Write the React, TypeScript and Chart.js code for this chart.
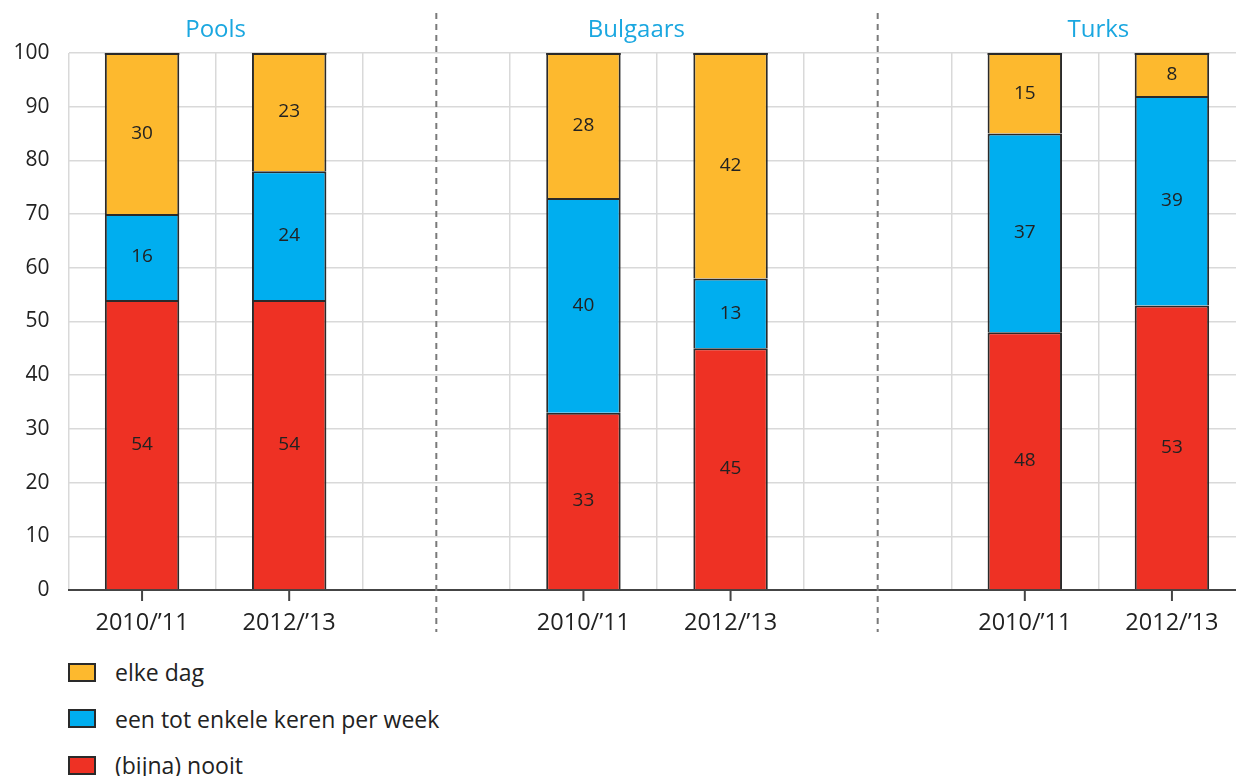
import React, { useEffect, useRef } from "react";
import { Chart, registerables } from "chart.js";

Chart.register(...registerables);

const categories = ["2010/\u201911", "2012/\u201913", "", "2010/\u201911", "2012/\u201913", "", "2010/\u201911", "2012/\u201913"];
const groupTitles = ["Pools", "Bulgaars", "Turks"];
const seriesNames = ["(bijna) nooit", "een tot enkele keren per week", "elke dag"];
const nooit = [54, 54, null, 33, 45, null, 48, 53];
const week = [16, 24, null, 40, 13, null, 37, 39];
const dag = [30, 23, null, 28, 42, null, 15, 8];
const yMin = 0;
const yMax = 100;
const yStep = 10;

const COLORS = ["#EE3124", "#00AEEF", "#FDB92E"];
const BORDER = "#2a2a2a";
const FONT = "'Open Sans', Lato, sans-serif";
const TEXT = "#222222";

const overlayPlugin = {
  id: "overlay",
  afterDatasetsDraw(chart: any) {
    const { ctx, chartArea, scales } = chart;
    const xs = scales.x;
    ctx.save();
    chart.data.datasets.forEach((ds: any, di: number) => {
      const meta = chart.getDatasetMeta(di);
      meta.data.forEach((el: any, i: number) => {
        const v = ds.data[i];
        if (v == null) return;
        const p = el.getProps(["x", "y", "base", "width"], true);
        const top = Math.max(Math.min(p.y, p.base), chartArea.top);
        const bottom = Math.max(p.y, p.base);
        if (p.y < chartArea.top + 0.5) {
          ctx.strokeStyle = BORDER;
          ctx.lineWidth = 2;
          ctx.setLineDash([]);
          ctx.beginPath();
          ctx.moveTo(p.x - p.width / 2, chartArea.top + 1);
          ctx.lineTo(p.x + p.width / 2, chartArea.top + 1);
          ctx.stroke();
        }
        ctx.fillStyle = TEXT;
        ctx.font = `19px ${FONT}`;
        ctx.textAlign = "center";
        ctx.textBaseline = "middle";
        ctx.fillText(String(v), p.x, (top + bottom) / 2);
      });
    });
    ctx.strokeStyle = "#444444";
    ctx.lineWidth = 2;
    categories.forEach((c, i) => {
      if (!c) return;
      const px = xs.getPixelForValue(i);
      ctx.beginPath();
      ctx.moveTo(px, chartArea.bottom);
      ctx.lineTo(px, chartArea.bottom + 11);
      ctx.stroke();
    });
    ctx.strokeStyle = "#7a7a7a";
    ctx.lineWidth = 2;
    ctx.setLineDash([6, 5]);
    categories.forEach((c, i) => {
      if (c) return;
      const px = xs.getPixelForValue(i);
      ctx.beginPath();
      ctx.moveTo(px, 13);
      ctx.lineTo(px, 632);
      ctx.stroke();
    });
    ctx.setLineDash([]);
    const opts = chart.options.plugins.overlay || {};
    const at: number[] = opts.titleAt || [];
    const catW = (chartArea.right - chartArea.left) / categories.length;
    ctx.fillStyle = "#1AA7E0";
    ctx.font = `24px ${FONT}`;
    ctx.textAlign = "center";
    ctx.textBaseline = "middle";
    groupTitles.forEach((t, gi) => {
      const px = chartArea.left + (at[gi] + 0.5) * catW;
      ctx.fillText(t, px, 30);
    });
    ctx.restore();
  },
};

export default function App() {
  const canvasRef = useRef<HTMLCanvasElement | null>(null);

  useEffect(() => {
    if (!canvasRef.current) return;
    const clip = { left: false, top: 0, right: false, bottom: false } as any;
    const chart = new Chart(canvasRef.current, {
      type: "bar",
      data: {
        labels: categories,
        datasets: [
          { label: seriesNames[0], data: nooit, backgroundColor: COLORS[0] },
          { label: seriesNames[1], data: week, backgroundColor: COLORS[1] },
          { label: seriesNames[2], data: dag, backgroundColor: COLORS[2] },
        ].map((d) => ({
          ...d,
          borderColor: BORDER,
          borderWidth: 2,
          borderSkipped: "start",
          categoryPercentage: 0.506,
          barPercentage: 1,
          clip,
        })) as any,
      },
      options: {
        animation: false,
        responsive: true,
        maintainAspectRatio: false,
        layout: { padding: { top: 53, right: 6.5, left: 0, bottom: 0 } },
        plugins: {
          legend: { display: false },
          tooltip: { enabled: false },
          overlay: { titleAt: [0.5, 3.36, 6.5] },
        } as any,
        scales: {
          x: {
            stacked: true,
            grid: { color: "#d9d9d9", lineWidth: 1.5, drawTicks: false, offset: true },
            border: { display: true, color: "#444444", width: 2 },
            ticks: { color: TEXT, font: { family: FONT, size: 23.5 }, padding: 19, maxRotation: 0, autoSkip: false },
            afterFit: (s: any) => {
              s.height = 55;
            },
          },
          y: {
            stacked: true,
            min: yMin,
            max: yMax,
            grid: { color: "#d9d9d9", lineWidth: 1.5, drawTicks: false },
            border: { display: false },
            ticks: { stepSize: yStep, color: TEXT, font: { family: FONT, size: 21 }, padding: 19 },
            afterFit: (s: any) => {
              s.width = 68.5;
            },
          },
        },
      },
      plugins: [overlayPlugin],
    });
    return () => chart.destroy();
  }, []);

  const legendRows = [
    { name: seriesNames[2], color: COLORS[2] },
    { name: seriesNames[1], color: COLORS[1] },
    { name: seriesNames[0], color: COLORS[0] },
  ];

  return (
    <div style={{ position: "fixed", left: 0, top: 0, width: 1236, height: 776, overflow: "hidden", background: "#fff" }}>
      <div style={{ position: "absolute", left: 0, top: 0, width: 1252, height: 645 }}>
        <canvas ref={canvasRef} />
      </div>
      {legendRows.map((r, i) => (
        <div
          key={r.name}
          style={{
            position: "absolute",
            left: 68,
            top: 672 + i * 46.5 - 15,
            height: 30,
            display: "flex",
            alignItems: "center",
            fontFamily: FONT,
            fontSize: 23,
            color: TEXT,
            whiteSpace: "nowrap",
          }}
        >
          <div style={{ width: 28, height: 19, boxSizing: "border-box", border: `2px solid ${BORDER}`, background: r.color, marginRight: 19 }} />
          <span>{r.name}</span>
        </div>
      ))}
    </div>
  );
}
